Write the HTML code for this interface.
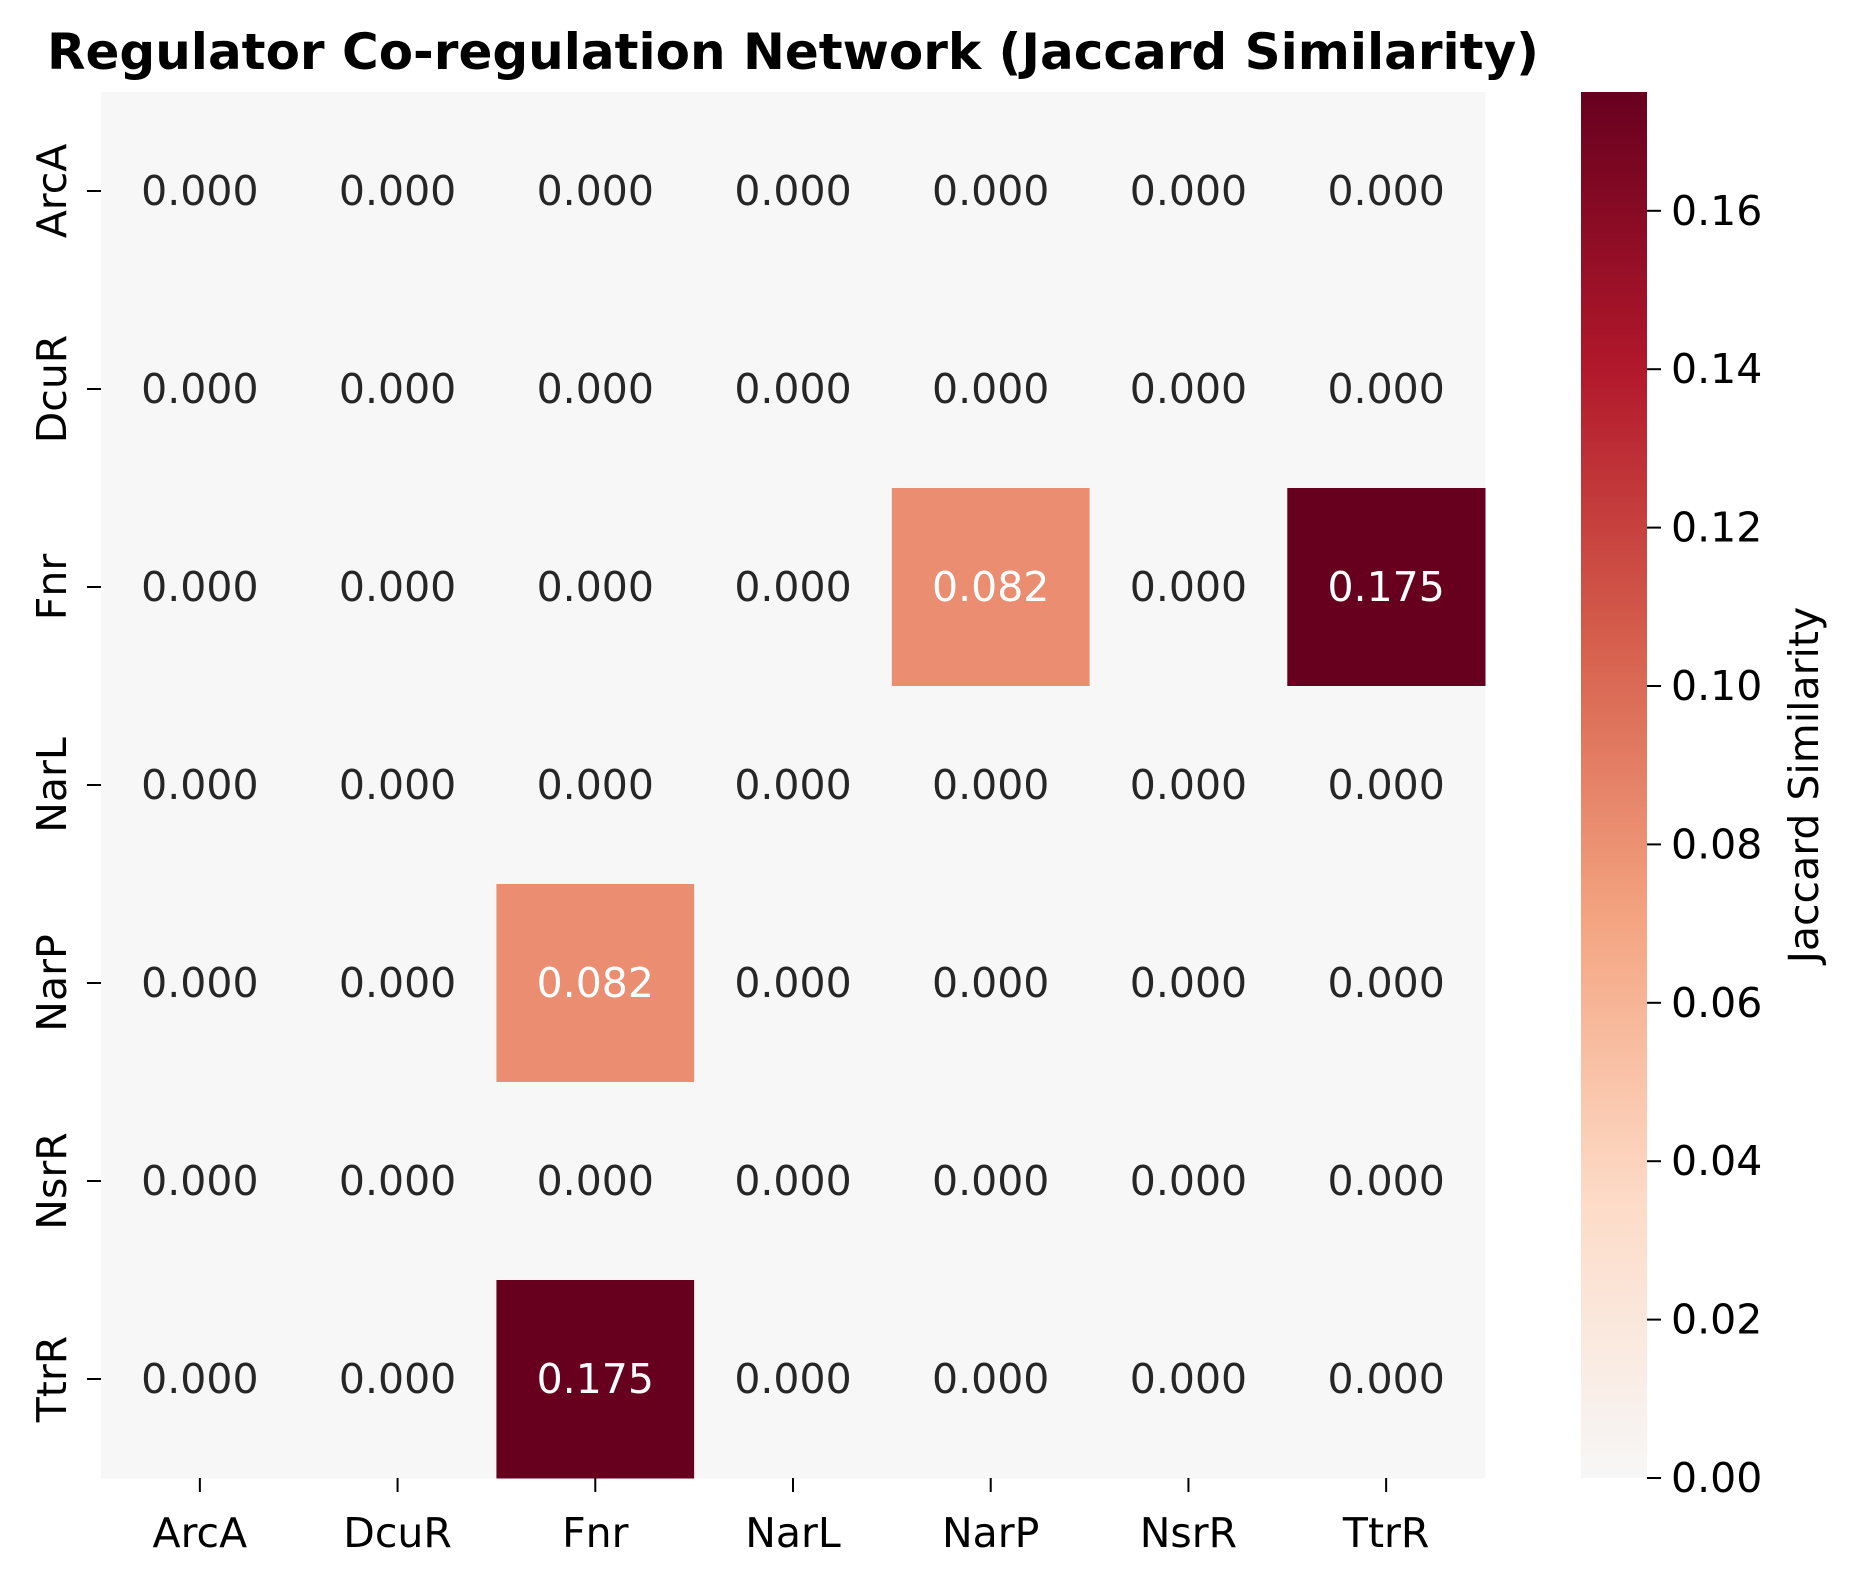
<!DOCTYPE html>
<html><head><meta charset="utf-8"><style>
html,body{margin:0;padding:0;background:#fff}
svg{display:block;font-family:"DejaVu Sans","Liberation Sans",sans-serif}
</style></head><body>
<svg id="chart" width="1860" height="1580" viewBox="0 0 1860 1580" xmlns="http://www.w3.org/2000/svg">
<text x="47" y="69" font-size="50" font-weight="bold" fill="#000">Regulator Co-regulation Network (Jaccard Similarity)</text>
<g id="cells"></g><g id="axes"></g><g id="cbar"></g>
</svg>
<script>
const rowLabels = ["ArcA","DcuR","Fnr","NarL","NarP","NsrR","TtrR"];
const colLabels = ["ArcA","DcuR","Fnr","NarL","NarP","NsrR","TtrR"];
const values = [
 [0,0,0,0,0,0,0],
 [0,0,0,0,0,0,0],
 [0,0,0,0,0.082,0,0.175],
 [0,0,0,0,0,0,0],
 [0,0,0.082,0,0,0,0],
 [0,0,0,0,0,0,0],
 [0,0,0.175,0,0,0,0]
];
const cbarTicks = [0,0.02,0.04,0.06,0.08,0.10,0.12,0.14,0.16];
const vmax = 0.175;

const NS="http://www.w3.org/2000/svg";
const L=101,R=1485,T=92,B=1478;
const cw=(R-L)/colLabels.length, ch=(B-T)/rowLabels.length;
const xPos=i=>L+i*cw, yPos=j=>T+j*ch;
const cbX=1581,cbW=66;
const cbY=v=>B-(v/vmax)*(B-T);
const stops=[[0,[247,247,247]],[0.2,[253,219,199]],[0.4,[244,165,130]],[0.6,[214,96,77]],[0.8,[178,24,43]],[1,[103,0,31]]];
function color(v){let t=Math.max(0,Math.min(1,v/vmax));for(let k=1;k<stops.length;k++){if(t<=stops[k][0]){const a=stops[k-1],b=stops[k];const f=(t-a[0])/(b[0]-a[0]);const c=a[1].map((x,i)=>Math.round(x+(b[1][i]-x)*f));return `rgb(${c.join(',')})`;}}return 'rgb(103,0,31)';}
function mk(tag,attrs,parent,text){const e=document.createElementNS(NS,tag);for(const k in attrs)e.setAttribute(k,attrs[k]);if(text!==undefined)e.textContent=text;parent.appendChild(e);return e;}
const cells=document.getElementById('cells'),axes=document.getElementById('axes'),cbar=document.getElementById('cbar');
values.forEach((row,j)=>row.forEach((v,i)=>{
 const r=mk('rect',{x:xPos(i),y:yPos(j),width:cw+0.5,height:ch+0.5,fill:color(v)},cells);
 
 
 const t=mk('text',{x:xPos(i)+cw/2,y:yPos(j)+ch/2+14,'text-anchor':'middle','font-size':41,fill:(v/vmax>0.4?'#fff':'#262626')},cells,v.toFixed(3));
 
 
}));
colLabels.forEach((c,i)=>{
 const x=xPos(i)+cw/2;
 mk('line',{x1:x,x2:x,y1:B,y2:B+14,stroke:'#000','stroke-width':2},axes);
 const t=mk('text',{x:x,y:B+69,'text-anchor':'middle','font-size':41,fill:'#000'},axes,c);
 
 
});
rowLabels.forEach((c,j)=>{
 const y=yPos(j)+ch/2;
 mk('line',{x1:L-14,x2:L,y1:y,y2:y,stroke:'#000','stroke-width':2},axes);
 const t=mk('text',{x:0,y:0,'text-anchor':'middle','font-size':41,fill:'#000',transform:`translate(66,${y}) rotate(-90)`},axes,c);
 
 
});
const defs=mk('defs',{},cbar);
const g=mk('linearGradient',{id:'cg',x1:0,y1:1,x2:0,y2:0},defs);
stops.forEach(s=>mk('stop',{offset:s[0],'stop-color':`rgb(${s[1].join(',')})`},g));
const cb=mk('rect',{x:cbX,y:T,width:cbW,height:B-T,fill:'url(#cg)'},cbar);


cbarTicks.forEach(v=>{
 const y=cbY(v);
 mk('line',{x1:cbX+cbW,x2:cbX+cbW+14,y1:y,y2:y,stroke:'#000','stroke-width':2},cbar);
 const t=mk('text',{x:1671,y:y+14,'font-size':41,fill:'#000'},cbar,v.toFixed(2));
 
 
});
const lab=mk('text',{x:0,y:0,'text-anchor':'middle','font-size':41,fill:'#000',transform:`translate(1818,${(T+B)/2}) rotate(-90)`},cbar,'Jaccard Similarity');


</script>
</body></html>
